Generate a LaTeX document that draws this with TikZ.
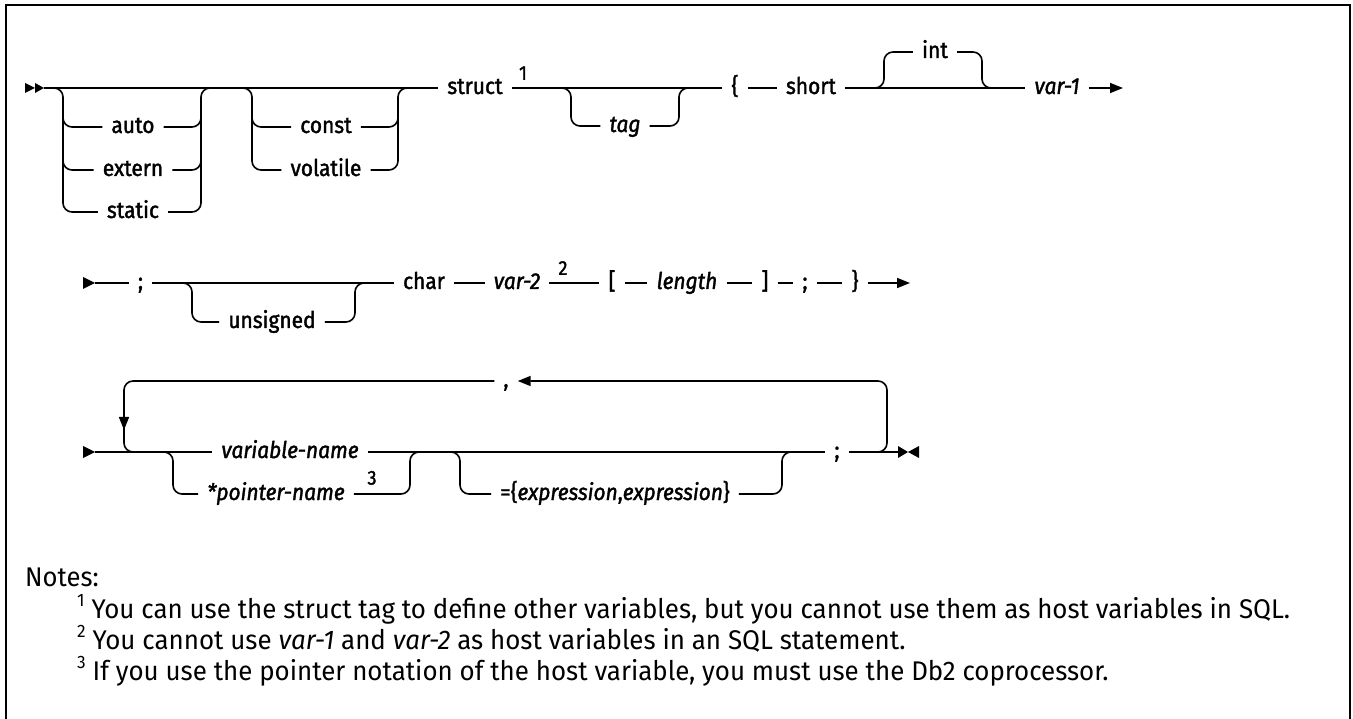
\documentclass[tikz,border=0pt]{standalone}
\usepackage{fontspec}
\setmainfont{Fira Sans}
\newfontfamily\dgfont{Fira Sans}[FakeBold=1.6,FakeStretch=0.91]
\newfontfamily\ntfont{Fira Sans}
\usetikzlibrary{arrows.meta,calc}
\newcommand\ntsup[1]{\raisebox{0.42em}{\fontsize{18}{18}\selectfont #1}}
\newlength\noteonew
\AtBeginDocument{\settowidth\noteonew{\ntfont\fontsize{27}{30}\selectfont\ntsup{1} You can use the struct tag to define other variables, but you cannot use them as host variables in SQL.}}
\begin{document}
\begin{tikzpicture}[x=1pt,y=-1pt,
  rr/.style={line width=1.6pt, rounded corners=9pt},
  ln/.style={line width=1.6pt},
  lbl/.style={font=\dgfont\fontsize{23}{27}\selectfont, inner xsep=9pt, inner ysep=0pt, text height=14pt, text depth=2pt},
  ilbl/.style={lbl, font=\dgfont\fontsize{23}{27}\selectfont\itshape},
  supnum/.style={font=\dgfont\fontsize{20}{22}\selectfont, inner sep=0pt, anchor=south},
  tip/.style={-{Triangle[length=13pt,width=10pt]}},
  notetxt/.style={font=\ntfont\fontsize{27}{30}\selectfont, inner sep=0pt, anchor=base west}]
\useasboundingbox (0,0) rectangle (1353,719);
\pgfmathsetmacro\nsx{1213/\noteonew}
% frame
\draw[line width=2.5pt] (6,719) -- (6,5) -- (1350,5) -- (1350,719);

% ---------------- Row 1 ----------------
\fill (25,83) -- (35,88) -- (25,93) -- cycle;
\fill (35,83) -- (44,88) -- (35,93) -- cycle;
\coordinate (st1) at (44,88);
\node[lbl] (auto) at (133,127) {auto};
\node[lbl] (extern) at (133,170) {extern};
\node[lbl] (static) at (133,212) {static};
\node[lbl] (const) at (326,127) {const};
\node[lbl] (volatile) at (326,170) {volatile};
\node[lbl] (struct) at (475,88) {struct};
\node[supnum] (n1) at (523,80) {1};
\node[ilbl] (tag) at (625,126) {tag};
\node[lbl] (lbr) at (735,88) {\{};
\node[lbl] (short) at (811,88) {short};
\node[lbl] (int) at (935,52) {int};
\node[ilbl] (var1) at (1057,88) {var-1};
\coordinate (e1) at (1123,88);

\coordinate (b1l) at (63,88);  \coordinate (b1r) at (201,88);
\coordinate (b2l) at (252,88); \coordinate (b2r) at (398,88);
\coordinate (btl) at (571,88); \coordinate (btr) at (679,88);
\coordinate (bil) at (884,88); \coordinate (bir) at (982,88);

\draw[ln] (st1) -- (struct.west);
\draw[ln] (struct.east) -- (lbr.west);
\draw[ln] (lbr.east) -- (short.west);
\draw[ln] (short.east) -- (var1.west);
\draw[ln,tip] (var1.east) -- (e1);

% branch auto/extern/static
\draw[rr] ($(b1l)+(-10,0)$) -- (b1l) -- (b1l |- static.center) -- (static.west);
\draw[rr] ($(b1l |- auto.center)+(0,-12)$) -- (b1l |- auto.center) -- (auto.west);
\draw[rr] ($(b1l |- extern.center)+(0,-12)$) -- (b1l |- extern.center) -- (extern.west);
\draw[rr] (static.east) -- (b1r |- static.center) -- (b1r) -- ($(b1r)+(10,0)$);
\draw[rr] (auto.east) -- (b1r |- auto.center) -- ($(b1r |- auto.center)+(0,-12)$);
\draw[rr] (extern.east) -- (b1r |- extern.center) -- ($(b1r |- extern.center)+(0,-12)$);
% branch const/volatile
\draw[rr] ($(b2l)+(-10,0)$) -- (b2l) -- (b2l |- volatile.center) -- (volatile.west);
\draw[rr] ($(b2l |- const.center)+(0,-12)$) -- (b2l |- const.center) -- (const.west);
\draw[rr] (volatile.east) -- (b2r |- volatile.center) -- (b2r) -- ($(b2r)+(10,0)$);
\draw[rr] (const.east) -- (b2r |- const.center) -- ($(b2r |- const.center)+(0,-12)$);
% branch tag
\draw[rr] ($(btl)+(-10,0)$) -- (btl) -- (btl |- tag.center) -- (tag.west);
\draw[rr] (tag.east) -- (btr |- tag.center) -- (btr) -- ($(btr)+(10,0)$);
% branch int (above)
\draw[rr] ($(bil)+(-10,0)$) -- (bil) -- (bil |- int.center) -- (int.west);
\draw[rr] (int.east) -- (bir |- int.center) -- (bir) -- ($(bir)+(10,0)$);

% ---------------- Row 2 ----------------
\fill (83,277) -- (95,283) -- (83,289) -- cycle;
\coordinate (st2) at (95,283);
\node[lbl] (semi2) at (140.5,283) {;};
\node[lbl] (unsigned) at (272,322) {unsigned};
\node[lbl] (char) at (424,283) {char};
\node[ilbl] (var2) at (517,283) {var-2};
\node[supnum] (n2) at (563,275) {2};
\node[lbl] (lbk) at (612,283) {[};
\node[ilbl] (length) at (687,283) {length};
\node[lbl] (rbk) at (765,283) {]};
\node[lbl] (semi2b) at (805,283) {;};
\node[lbl] (rbr) at (855,283) {\}};
\coordinate (e2) at (910,283);
\coordinate (bul) at (192,283); \coordinate (bur) at (355,283);

\draw[ln] (st2) -- (semi2.west);
\draw[ln] (semi2.east) -- (char.west);
\draw[ln] (char.east) -- (var2.west);
\draw[ln] (var2.east) -- (lbk.west);
\draw[ln] (lbk.east) -- (length.west);
\draw[ln] (length.east) -- (rbk.west);
\draw[ln] (rbk.east) -- (semi2b.west);
\draw[ln] (semi2b.east) -- (rbr.west);
\draw[ln,tip] (rbr.east) -- (e2);
\draw[rr] ($(bul)+(-10,0)$) -- (bul) -- (bul |- unsigned.center) -- (unsigned.west);
\draw[rr] (unsigned.east) -- (bur |- unsigned.center) -- (bur) -- ($(bur)+(10,0)$);

% ---------------- Row 3 ----------------
\fill (83,446) -- (95,452) -- (83,458) -- cycle;
\coordinate (st3) at (95,452);
\node[ilbl] (varname) at (290,452) {variable-name};
\node[ilbl] (pointer) at (276,494) {*pointer-name};
\node[supnum] (n3) at (372,485) {3};
\node[lbl] (expr) at (615,494) {=\{\textit{expression},\textit{expression}\}};
\node[lbl] (semi3) at (837,452) {;};
\node[lbl] (comma) at (506,381) {,};
\coordinate (e3) at (898,452);
\fill (898,446) -- (908,452) -- (898,458) -- cycle;
\fill (919,446) -- (908,452) -- (919,458) -- cycle;

\coordinate (bpl) at (173,452); \coordinate (bpr) at (410,452);
\coordinate (bel) at (460,452); \coordinate (ber) at (782,452);
\coordinate (ll) at (124,381);  \coordinate (lr) at (887,381);

\draw[ln] (st3) -- (varname.west);
\draw[ln] (varname.east) -- (semi3.west);
\draw[ln] (semi3.east) -- (e3);
\draw[rr] ($(bpl)+(-10,0)$) -- (bpl) -- (bpl |- pointer.center) -- (pointer.west);
\draw[rr] (pointer.east) -- (bpr |- pointer.center) -- (bpr) -- ($(bpr)+(10,0)$);
\draw[rr] ($(bel)+(-10,0)$) -- (bel) -- (bel |- expr.center) -- (expr.west);
\draw[rr] (expr.east) -- (ber |- expr.center) -- (ber) -- ($(ber)+(10,0)$);
% repeat loop
\draw[rr,tip] ($(lr |- semi3.center)+(-14,0)$) -- (lr |- semi3.center) -- (lr) -- (comma.east);
\draw[rr] (comma.west) -- (ll) -- (ll |- varname.center) -- ($(ll |- varname.center)+(20,0)$);
\draw[ln,tip] ($(ll)+(0,20)$) -- ($(ll)+(0,49)$);

% ---------------- Notes ----------------
\node[notetxt] (notes) at (25,586) {\scalebox{0.95}[1]{Notes:}};
\node[notetxt] (note1) at (77,618) {\scalebox{\nsx}[1]{\ntsup{1} You can use the struct tag to define other variables, but you cannot use them as host variables in SQL.}};
\node[notetxt] (note2) at (77,649) {\scalebox{\nsx}[1]{\ntsup{2} You cannot use \textit{var-1} and \textit{var-2} as host variables in an SQL statement.}};
\node[notetxt] (note3) at (77,680) {\scalebox{\nsx}[1]{\ntsup{3} If you use the pointer notation of the host variable, you must use the Db2 coprocessor.}};
\end{tikzpicture}
\end{document}
